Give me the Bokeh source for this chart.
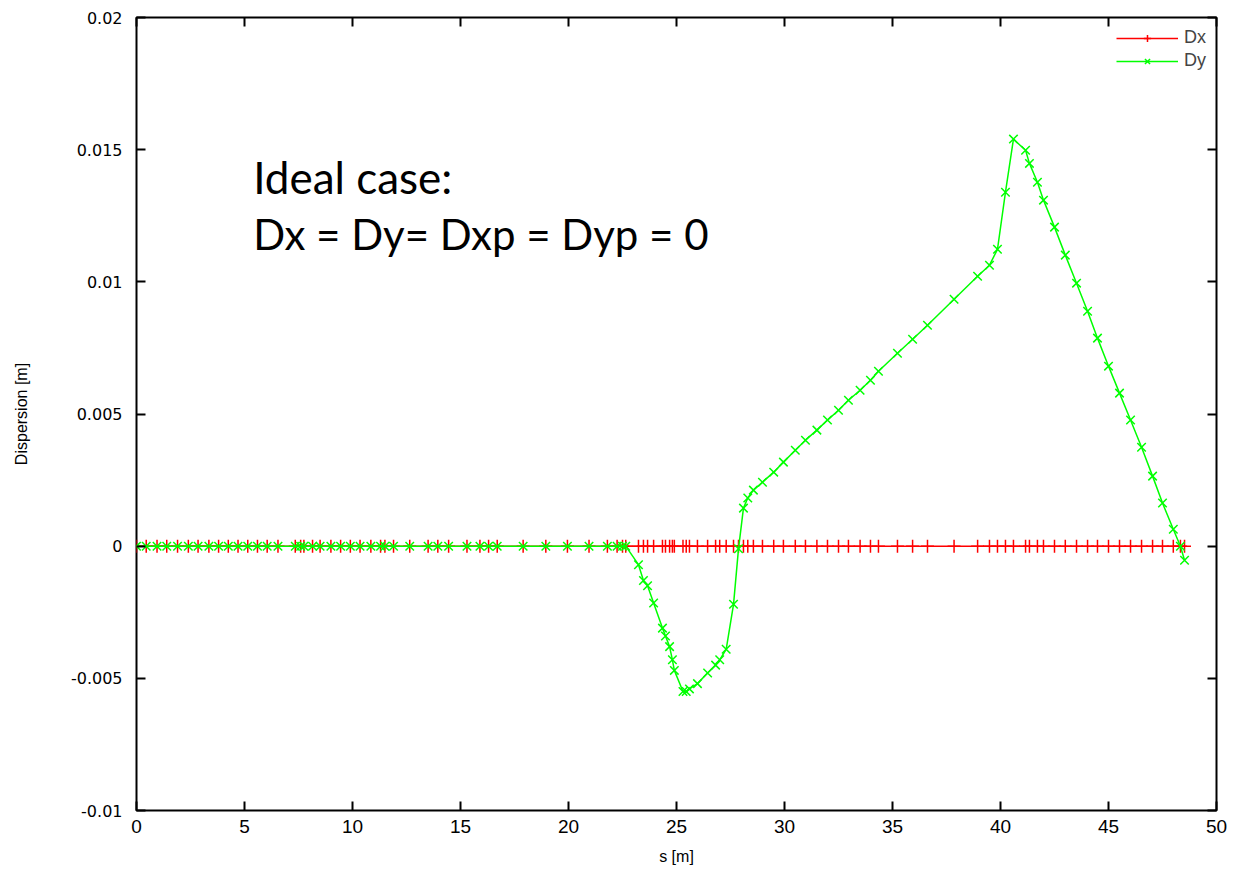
from bokeh.plotting import figure
from bokeh.models import (FixedTicker, CustomJSTickFormatter, LinearAxis, Label,
                          Legend, LegendItem, Range1d)
from bokeh.embed import file_html
from bokeh.resources import INLINE

# ---- data ----
s = [0.0, 0.45, 0.95, 1.4, 1.9, 2.4, 2.85, 3.35, 3.8, 4.25, 4.7, 5.15, 5.6, 6.05,
     6.55, 7.35, 7.6, 7.75, 8.15, 8.5, 9.0, 9.45, 9.9, 10.35, 10.85, 11.3, 11.5,
     11.9, 12.65, 13.5, 13.95, 14.45, 15.3, 15.9, 16.3, 16.7, 17.9, 18.95, 19.95,
     20.95, 21.8, 22.25, 22.5, 22.65,
     23.24, 23.47, 23.66, 23.94, 24.35, 24.49, 24.68, 24.81, 24.9, 25.3, 25.45,
     25.6, 25.97, 26.44, 26.81, 27.0, 27.3, 27.64, 27.87,
     28.1, 28.3, 28.56, 28.98, 29.5, 29.95, 30.5, 30.97, 31.5, 31.99, 32.5, 32.96,
     33.5, 33.98, 34.35, 35.23, 35.93, 36.62, 37.85, 38.94, 39.49, 39.86, 40.23,
     40.6, 41.16, 41.34, 41.71, 41.99, 42.5, 43.0, 43.52, 44.03, 44.49, 45.0,
     45.51, 46.02, 46.53, 47.04, 47.5, 48.0, 48.33, 48.52]

dy = [0.0] * 44 + [
    -0.0007, -0.0013, -0.0015, -0.00215, -0.0031, -0.0034, -0.0038, -0.0043,
    -0.0047, -0.0055, -0.0055, -0.0054, -0.0052, -0.0048, -0.0045, -0.0043,
    -0.0039, -0.0022, -0.0001,
    0.00144, 0.00182, 0.00212, 0.00242, 0.0028, 0.00318, 0.00363, 0.00401,
    0.00439, 0.00477, 0.00514, 0.00552, 0.0059, 0.00628, 0.00662, 0.0073,
    0.00783, 0.00836, 0.00934, 0.01021, 0.01063, 0.01123, 0.01339, 0.0154,
    0.01498, 0.01448, 0.01377, 0.01309, 0.01207, 0.01101, 0.00995, 0.00889,
    0.00787, 0.00681, 0.00579, 0.00477, 0.00374, 0.00265, 0.00163, 0.00064,
    0.0, -0.00053]

dx = [0.0] * len(s)

x_ticks = [0, 5, 10, 15, 20, 25, 30, 35, 40, 45, 50]
y_ticks = [-0.01, -0.005, 0.0, 0.005, 0.01, 0.015, 0.02]
series_names = ["Dx", "Dy"]
note_lines = ["Ideal case:", "Dx = Dy= Dxp = Dyp = 0"]

TICK_FONT_Y = "DejaVu Sans"
TICK_FONT_X = "Liberation Sans Narrow, Liberation Sans"

p = figure(width=1235, height=877, output_backend="svg", toolbar_location=None,
           x_range=Range1d(0, 50), y_range=Range1d(-0.01, 0.02),
           min_border_left=136, min_border_right=19, min_border_top=17,
           min_border_bottom=67)
p.xgrid.visible = False
p.ygrid.visible = False
p.outline_line_color = "black"
p.outline_line_width = 2
p.background_fill_color = "white"
p.border_fill_color = "white"

fmt = CustomJSTickFormatter(code="""
var s = tick.toFixed(3);
s = s.replace(/0+$/, '').replace(/\\.$/, '');
if (s == '-0') s = '0';
return s;
""")

for ax in p.xaxis:
    ax.ticker = FixedTicker(ticks=x_ticks)
    ax.axis_label = "s [m]"
for ax in p.yaxis:
    ax.ticker = FixedTicker(ticks=y_ticks)
    ax.formatter = fmt
    ax.axis_label = "Dispersion [m]"

for ax in list(p.xaxis) + list(p.yaxis):
    ax.axis_line_color = None
    ax.major_tick_in = 9
    ax.major_tick_out = 0
    ax.major_tick_line_width = 2
    ax.minor_tick_line_color = None
    ax.major_label_text_color = "black"
    ax.axis_label_text_font_style = "normal"
    ax.axis_label_text_font_size = "16px"
    ax.axis_label_text_font = TICK_FONT_X
    ax.axis_label_text_color = "black"
for ax in p.xaxis:
    ax.major_label_text_font = TICK_FONT_X
    ax.major_label_text_font_size = "19px"
    ax.major_label_standoff = 9
    ax.axis_label_standoff = 12
for ax in p.yaxis:
    ax.major_label_text_font = TICK_FONT_Y
    ax.major_label_text_font_size = "16px"
    ax.major_label_standoff = 14
    ax.axis_label_standoff = 38

# mirror ticks (labels hidden)
top = LinearAxis(ticker=FixedTicker(ticks=x_ticks), axis_line_color=None,
                 major_tick_in=9, major_tick_out=0, major_tick_line_width=2,
                 minor_tick_line_color=None, major_label_text_font_size="0px",
                 major_label_standoff=0)
right = LinearAxis(ticker=FixedTicker(ticks=y_ticks), axis_line_color=None,
                   major_tick_in=9, major_tick_out=0, major_tick_line_width=2,
                   minor_tick_line_color=None, major_label_text_font_size="0px",
                   major_label_standoff=0)
p.add_layout(top, "above")
p.add_layout(right, "right")

RED = "#ff0000"
GREEN = "#00ff00"

r_dx_line = p.line(s, dx, line_color=RED, line_width=1.5)
r_dx_pts = p.scatter(s, dx, marker="cross", size=13, line_color=RED, line_width=1.5)
r_dy_line = p.line(s, dy, line_color=GREEN, line_width=1.5)
r_dy_pts = p.scatter(s, dy, marker="x", size=12, line_color=GREEN, line_width=1.5)

legend = Legend(items=[LegendItem(label=series_names[0], renderers=[r_dx_line, r_dx_pts]),
                       LegendItem(label=series_names[1], renderers=[r_dy_line, r_dy_pts])],
                location="top_right", glyph_width=62, glyph_height=18,
                label_text_font=TICK_FONT_X, label_text_font_size="18px",
                label_height=18,
                border_line_color=None, background_fill_alpha=0,
                spacing=2, padding=4, margin=10, label_standoff=6)
p.add_layout(legend)

p.add_layout(Label(x=5.4, y=0.01496, text=note_lines[0], text_font="Lato",
                   text_font_size="44px", text_baseline="top",
                   text_color="black"))
p.add_layout(Label(x=5.4, y=0.01274, text=note_lines[1], text_font="Lato",
                   text_font_size="42px", text_baseline="top",
                   text_color="black"))

open("out.html", "w").write(file_html(p, INLINE))
